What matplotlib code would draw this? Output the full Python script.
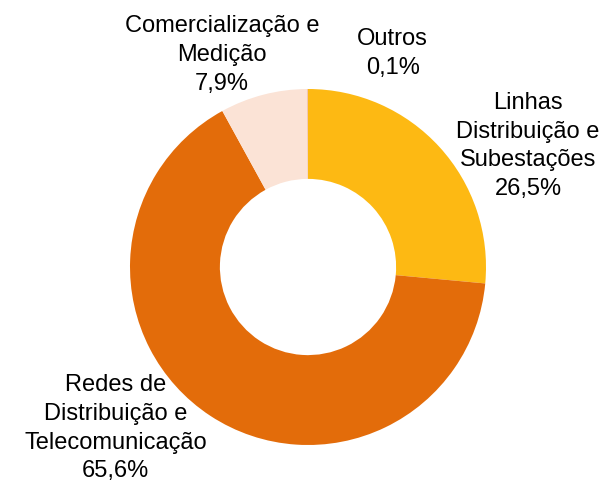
import matplotlib
matplotlib.use('Agg')
import matplotlib.pyplot as plt

# Dados
categorias = ['Linhas\nDistribuição e\nSubestações', 'Redes de\nDistribuição e\nTelecomunicação',
              'Comercialização e\nMedição', 'Outros']
valores = [26.5, 65.6, 7.9, 0.1]
cores = ['#FDB913', '#E36C0A', '#FBE3D6', '#F2C6AE']

# posições dos rótulos (fração da figura)
pos_rotulos = [(0.870, 0.699), (0.190, 0.117), (0.366, 0.887), (0.647, 0.889)]

plt.rcParams['font.family'] = ['Liberation Sans', 'DejaVu Sans']

fig = plt.figure(figsize=(6.07, 4.85), dpi=100)
cx, cy, r = 308, 268, 178
ax = fig.add_axes([(cx - r) / 607, (485 - cy - r) / 485, 2 * r / 607, 2 * r / 485])
ax.pie(valores, colors=cores, startangle=90, counterclock=False, radius=1,
       wedgeprops=dict(width=0.505, linewidth=0))
ax.set_aspect('equal')
ax.set_xlim(-1, 1)
ax.set_ylim(-1, 1)
ax.axis('off')

for cat, v, (x, y) in zip(categorias, valores, pos_rotulos):
    texto = cat + '\n' + f'{v:.1f}'.replace('.', ',') + '%'
    fig.text(x, y, texto, ha='center', va='center', fontsize=17, linespacing=1.4)

fig.savefig('out.png', dpi=100)
